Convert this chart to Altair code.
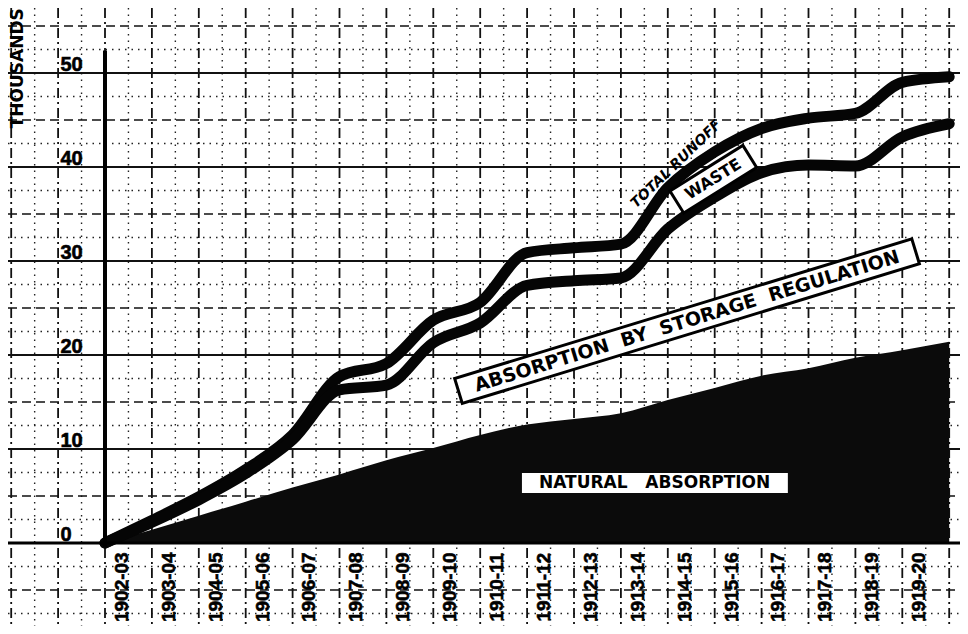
import altair as alt
import pandas as pd
import numpy as np

# ---------------- data ----------------
years = ["1902-03", "1903-04", "1904-05", "1905-06", "1906-07", "1907-08",
         "1908-09", "1909-10", "1910-11", "1911-12", "1912-13", "1913-14",
         "1914-15", "1915-16", "1916-17", "1917-18", "1918-19", "1919-20"]
# cumulative values (thousands) at each vertical, start of 1902-03 .. end of 1919-20
total_runoff = [0, 2.4, 4.9, 7.8, 11.5, 17.7, 19.1, 23.7, 25.6, 30.9, 31.4, 31.8,
                37.8, 41.6, 44.1, 45.2, 45.7, 49.0, 49.6]
runoff_less_waste = [0, 2.2, 4.6, 7.4, 11.0, 16.3, 16.8, 21.3, 23.4, 27.4, 27.9, 28.2,
                     33.4, 36.8, 39.4, 40.2, 40.1, 43.2, 44.6]
natural_absorption = [0, 1.4, 2.9, 4.4, 5.9, 7.3, 8.8, 10.1, 11.5, 12.6, 13.2, 13.8,
                      15.2, 16.5, 17.8, 18.6, 19.7, 20.5, 21.4]
y_ticks = [0, 10, 20, 30, 40, 50]
y_title = "THOUSANDS"

# ---------------- layout ----------------
W, H = 952, 618
X_DOM = [-2.0682, 18.2303]
Y_DOM = [-8.830, 56.915]
FONT_LBL = "Liberation Sans"
FONT = "DejaVu Sans"
SP = "\u00a0"


def X(field="v"):
    return alt.X(f"{field}:Q", scale=alt.Scale(domain=X_DOM, nice=False, zero=False), axis=None)


def Y(field="y"):
    return alt.Y(f"{field}:Q", scale=alt.Scale(domain=Y_DOM, nice=False, zero=False), axis=None)


idx = list(range(len(total_runoff)))

# ---------------- graph paper ----------------
h_major = pd.DataFrame({"y": [v for v in range(0, 60, 10)]})
h_half = pd.DataFrame({"y": [v + 5 for v in range(-10, 60, 10)]})
h_dot = pd.DataFrame({"y": [v + 2.5 for v in range(-10, 60, 5)]})
v_major = pd.DataFrame({"v": list(range(-2, 19))})
v_dot = pd.DataFrame({"v": [v + 0.5 for v in range(-3, 18)]})

grid_h_major = alt.Chart(h_major).mark_rule(color="#111", strokeWidth=2.2).encode(
    y=Y(), x=alt.value(0), x2=alt.value(W))
grid_h_half = alt.Chart(h_half).mark_rule(color="#111", strokeWidth=1.6, strokeDash=[9, 5]).encode(
    y=Y(), x=alt.value(0), x2=alt.value(W))
grid_h_dot = alt.Chart(h_dot).mark_rule(color="#222", strokeWidth=1.4, strokeDash=[1.5, 5]).encode(
    y=Y(), x=alt.value(0), x2=alt.value(W))
grid_v_major = alt.Chart(v_major).mark_rule(color="#111", strokeWidth=1.8, strokeDash=[10, 4, 2, 4]).encode(
    x=X(), y=alt.value(0), y2=alt.value(H))
grid_v_dot = alt.Chart(v_dot).mark_rule(color="#222", strokeWidth=1.4, strokeDash=[1.5, 5]).encode(
    x=X(), y=alt.value(0), y2=alt.value(H))

# ---------------- data marks ----------------
nat_df = pd.DataFrame({"v": idx, "y": natural_absorption})
area = alt.Chart(nat_df).mark_area(color="#0b0b0b", interpolate="monotone", opacity=1).encode(
    x=X(), y=Y(), y2=alt.datum(0))

lines_df = pd.concat([
    pd.DataFrame({"v": idx, "y": total_runoff, "s": "total"}),
    pd.DataFrame({"v": idx, "y": runoff_less_waste, "s": "lower"}),
])
lines = alt.Chart(lines_df).mark_line(color="#050505", strokeWidth=11, interpolate="monotone",
                                      strokeCap="round", strokeJoin="round").encode(
    x=X(), y=Y(), detail="s:N")

# heavy axes
axis_y = alt.Chart(pd.DataFrame({"v": [0], "y": [52.4], "y2": [-0.4]})).mark_rule(
    color="#000", strokeWidth=4).encode(x=X(), y=Y(), y2="y2:Q")
axis_x = alt.Chart(pd.DataFrame({"y": [0]})).mark_rule(color="#000", strokeWidth=3).encode(
    y=Y(), x=alt.value(0), x2=alt.value(W))

# ---------------- tick labels ----------------
ytl = pd.DataFrame({"v": [-0.95] * len(y_ticks), "y": y_ticks, "t": [str(t) for t in y_ticks]})
y_labels = alt.Chart(ytl).mark_text(font=FONT_LBL, fontWeight="bold", fontSize=20,
                                    align="left", baseline="alphabetic", dy=-2, color="#000",
                                    stroke="#000", strokeWidth=0.6).encode(
    x=X(), y=Y(), text="t:N")

xtl = pd.DataFrame({"v": [i + 0.36 for i in range(len(years))], "y": [-4.7] * len(years), "t": years})
x_labels = alt.Chart(xtl).mark_text(font=FONT_LBL, fontWeight="bold", fontSize=19, angle=270,
                                    align="center", baseline="middle", color="#000",
                                    stroke="#000", strokeWidth=0.6).encode(
    x=X(), y=Y(), text="t:N")

title = alt.Chart(pd.DataFrame({"v": [-1.85], "y": [50.5], "t": [y_title]})).mark_text(
    font=FONT, fontWeight="bold", fontSize=17, angle=270, align="center", baseline="middle",
    color="#000").encode(x=X(), y=Y(), text="t:N")

# ---------------- annotations ----------------
def box_path(length, height):
    h = height / length
    return f"M-1,-{h:.4f} L1,-{h:.4f} L1,{h:.4f} L-1,{h:.4f} Z"


absorb_label = SP.join(["ABSORPTION", "", "BY", "", "STORAGE", "", "REGULATION"])
nat_label = SP.join(["NATURAL", "", "", "ABSORPTION"])

absorb_box = alt.Chart(pd.DataFrame({"v": [12.41], "y": [23.6]})).mark_point(
    shape=box_path(478, 26), size=478 ** 2, angle=343, filled=True, fill="white", stroke="#000",
    strokeWidth=3, opacity=1).encode(x=X(), y=Y())
absorb_txt = alt.Chart(pd.DataFrame({"v": [12.41], "y": [23.6], "t": [absorb_label]})).mark_text(
    font=FONT, fontWeight="bold", fontSize=19, angle=343, align="center", baseline="middle",
    color="#000").encode(x=X(), y=Y(), text="t:N")

waste_box = alt.Chart(pd.DataFrame({"v": [12.97], "y": [38.7]})).mark_point(
    shape=box_path(86, 26), size=86 ** 2, angle=328, filled=True, fill="white", stroke="#000",
    strokeWidth=3, opacity=1).encode(x=X(), y=Y())
waste_txt = alt.Chart(pd.DataFrame({"v": [12.97], "y": [38.7], "t": ["WASTE"]})).mark_text(
    font=FONT, fontWeight="bold", fontSize=16, angle=328, align="center", baseline="middle",
    color="#000").encode(x=X(), y=Y(), text="t:N")

runoff_txt = alt.Chart(pd.DataFrame({"v": [12.18], "y": [40.3], "t": ["TOTAL RUNOFF"]})).mark_text(
    font=FONT, fontWeight="bold", fontStyle="italic", fontSize=14, angle=316, align="center",
    baseline="middle", color="#000").encode(x=X(), y=Y(), text="t:N")

nat_box = alt.Chart(pd.DataFrame({"v": [8.89], "v2": [14.56], "y": [5.32], "y2": [7.45]})).mark_rect(
    color="white", opacity=1).encode(x=X(), x2="v2:Q", y=Y(), y2="y2:Q")
nat_txt = alt.Chart(pd.DataFrame({"v": [11.72], "y": [6.38], "t": [nat_label]})).mark_text(
    font=FONT, fontWeight="bold", fontSize=17, align="center", baseline="middle", color="#000").encode(
    x=X(), y=Y(), text="t:N")

chart = alt.layer(
    grid_h_dot, grid_v_dot, grid_h_half, grid_v_major, grid_h_major,
    area, lines, axis_x, axis_y,
    y_labels, x_labels, title,
    absorb_box, absorb_txt, waste_box, waste_txt, runoff_txt,
    nat_box, nat_txt,
).properties(
    width=W, height=H, padding=0, autosize=alt.AutoSizeParams(type="none"), background="white"
).configure_view(stroke=None)

chart.save("out.html", embed_options={"renderer": "svg", "actions": False})
